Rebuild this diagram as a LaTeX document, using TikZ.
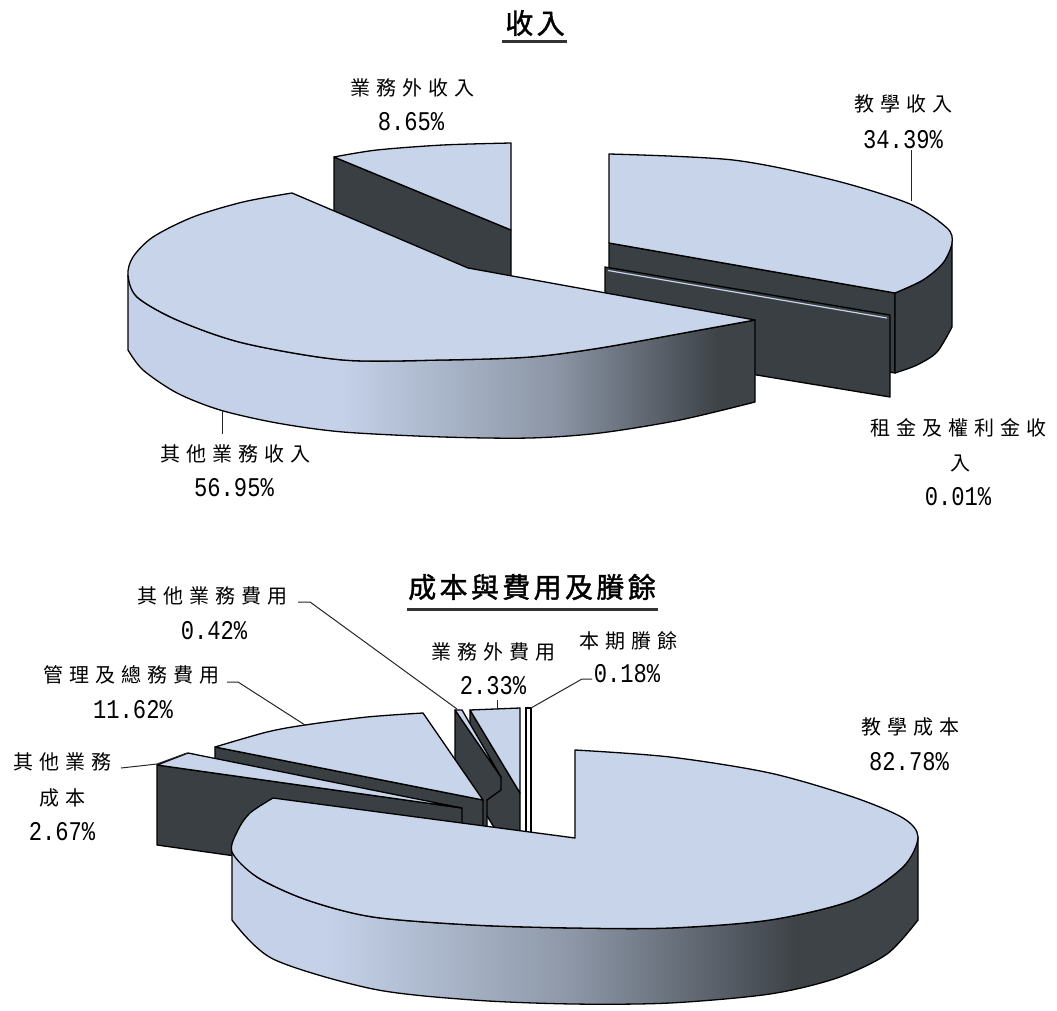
\documentclass[tikz,border=0pt]{standalone}
\usepackage{fontspec}
\newfontfamily\cjk[LetterSpace=30]{Noto Sans CJK TC}
\newfontfamily\cjktitle[LetterSpace=12,FakeBold=1.5]{Noto Sans CJK TC}
\newfontfamily\numf[FakeStretch=0.82]{Liberation Mono}
\definecolor{topc}{RGB}{200,212,234}
\definecolor{darkc}{RGB}{58,63,67}
\definecolor{sideL}{RGB}{196,209,232}
\definecolor{sideM}{RGB}{140,150,166}
\definecolor{sideD}{RGB}{62,67,72}
\pgfdeclarehorizontalshading{sideTop}{100bp}{color(0bp)=(sideL); color(42bp)=(sideL); color(59bp)=(sideM); color(72bp)=(sideD); color(100bp)=(sideD)}
\pgfdeclarehorizontalshading{sideBot}{100bp}{color(0bp)=(sideL); color(32bp)=(sideL); color(50bp)=(sideM); color(66bp)=(sideD); color(100bp)=(sideD)}
\tikzset{
  topface/.style={fill=topc, draw=black, line width=1.3pt, line join=round},
  darkface/.style={fill=darkc, draw=black, line width=1.3pt, line join=round},
  sidefaceT/.style={shading=sideTop, draw=black, line width=1.3pt, line join=round},
  sidefaceB/.style={shading=sideBot, draw=black, line width=1.3pt, line join=round},
  lbl/.style={inner sep=0pt, font=\cjk\fontsize{20}{24}\selectfont},
  num/.style={inner sep=0pt, font=\numf\fontsize{27}{30}\selectfont},
  ttl/.style={inner sep=0pt, font=\cjktitle\fontsize{28}{32}\selectfont},
  uline/.style={draw=black!80, line width=3pt},
  leader/.style={draw=black!85, line width=1pt}
}
\begin{document}
\begin{tikzpicture}[x=1pt,y=-1pt]
\fill[white] (0,0) rectangle (1057,1011);
\useasboundingbox (0,0) rectangle (1057,1011);

%% ================= TOP CHART =================
\node[ttl] (t1) at (535,23) {收入};
\coordinate (u1a) at (502,42); \coordinate (u1b) at (567,42);
\draw[uline] (u1a) -- (u1b);

% slice A: 業務外收入
\path[darkface] (334,157) -- (511,230) -- (511,310) -- (334,237) -- cycle;
\path[topface] (511,230) -- (334,157) -- plot[smooth] coordinates {(334,157) (377,150) (443,145) (511,143)} -- cycle;

% slice B: 教學收入
\path[darkface] (609,243) -- (895,293) -- (895,373) -- (609,323) -- cycle;
\path[darkface] plot[smooth] coordinates {(952,243) (943,263) (923,280) (895,293)} -- (895,373) -- plot[smooth] coordinates {(895,373) (917,365) (937,352) (952,327)} -- cycle;
\path[topface] (609,243) -- (609,154) -- plot[smooth] coordinates {(609,154) (733,160) (833,180) (910,204) (947,228) (952,243) (943,263) (923,280) (895,293)} -- cycle;

% slice C: 租金及權利金收入
\path[darkface] (605,267) -- (890,315) -- (890,397) -- (605,350) -- cycle;
\draw[topc, line width=1.2pt] (608,270.5) -- (887,318);

% slice D: 其他業務收入
\path[sidefaceT] plot[smooth] coordinates {(128,275) (137,297) (177,320) (243,343) (343,360) (443,360) (530,357) (600,348) (700,330) (755,320)} -- (755,402) -- plot[smooth] coordinates {(755,402) (680,420) (600,433) (530,438) (443,437) (343,432) (277,423) (220,410) (177,393) (143,370) (128,350)} -- cycle;
\path[topface] (468,268) -- (292,193) -- plot[smooth] coordinates {(292,193) (243,202) (193,217) (153,237) (133,257) (128,275) (137,297) (177,320) (243,343) (343,360) (443,360) (530,357) (600,348) (700,330) (755,320)} -- cycle;

% labels
\node[lbl] (tA1) at (412,88) {業務外收入};
\node[num] (tA2) at (411,122) {8.65\%};
\node[lbl] (tB1) at (903,104) {教學收入};
\node[num] (tB2) at (903,140) {34.39\%};
\node[lbl] (tC1) at (958,428) {租金及權利金收};
\node[lbl] (tC2) at (960,463) {入};
\node[num] (tC3) at (958,497) {0.01\%};
\node[lbl] (tD1) at (235,454) {其他業務收入};
\node[num] (tD2) at (234,488) {56.95\%};

\coordinate (lB) at (911,201); \coordinate (lBt) at (911,150);
\draw[leader] (lBt) -- (lB);
\coordinate (lD) at (222,410); \coordinate (lDt) at (222,434);
\draw[leader] (lD) -- (lDt);

%% ================= BOTTOM CHART =================
\node[ttl] (t2) at (532,587) {成本與費用及賸餘};
\coordinate (u2a) at (407,609); \coordinate (u2b) at (658,609);
\draw[uline] (u2a) -- (u2b);

% slice R: 本期賸餘
\path[fill=white, draw=black, line width=1.3pt] (526,708) rectangle (531,845);

% slice Q: 業務外費用
\path[darkface] (470,710) -- (520,793) -- (520,870) -- (470,788) -- cycle;
\path[topface] (470,710) -- (520,708) -- (520,793) -- cycle;

% slice P: 其他業務費用
\path[darkface] (455,710) -- (501,777) -- (501,790) -- (487,800) -- (487,878) -- (455,788) -- cycle;
\path[topface] (455,710) -- (462,710) -- (501,777) -- cycle;

% slice M: 管理及總務費用
\path[darkface] (215,747) -- (483,800) -- (483,878) -- (215,825) -- cycle;
\path[topface] (483,800) -- (215,747) -- plot[smooth] coordinates {(215,747) (267,732) (305,725) (367,717) (423,713)} -- cycle;

% slice O: 其他業務成本
\path[darkface] (157,765) -- (462,808) -- (462,888) -- (157,845) -- cycle;
\path[topface] (157,765) -- (188,753) -- (462,808) -- cycle;

% main slice: 教學成本
\path[sidefaceB] plot[smooth] coordinates {(232,852) (257,877) (307,900) (373,917) (473,925) (573,928) (670,928) (770,920) (853,900) (903,867) (918,837)} -- (918,920) -- plot[smooth] coordinates {(918,920) (887,954) (837,978) (770,994) (670,1003) (573,1004) (473,1000) (373,989) (273,959) (232,920)} -- cycle;
\path[topface] (575,838) -- (273,798) -- plot[smooth] coordinates {(273,798) (250,813) (238,830) (232,852) (257,877) (307,900) (373,917) (473,925) (573,928) (670,928) (770,920) (853,900) (903,867) (918,837) (903,818) (853,797) (770,773) (670,757) (575,750)} -- cycle;

% labels
\node[lbl] (bP1) at (212,596) {其他業務費用};
\node[num] (bP2) at (214,631) {0.42\%};
\node[lbl] (bM1) at (131,675) {管理及總務費用};
\node[num] (bM2) at (133,710) {11.62\%};
\node[lbl] (bO1) at (62,762) {其他業務};
\node[lbl] (bO2) at (62,798) {成本};
\node[num] (bO3) at (62,832) {2.67\%};
\node[lbl] (bQ1) at (493,652) {業務外費用};
\node[num] (bQ2) at (493,686) {2.33\%};
\node[lbl] (bR1) at (628,641) {本期賸餘};
\node[num] (bR2) at (627,674) {0.18\%};
\node[lbl] (bN1) at (910,727) {教學成本};
\node[num] (bN2) at (909,762) {82.78\%};

% leaders
\coordinate (lP0) at (298,602); \coordinate (lP1) at (310,602); \coordinate (lP2) at (457,709);
\draw[leader] (lP0) -- (lP1) -- (lP2);
\coordinate (lM0) at (227,682); \coordinate (lM1) at (238,682); \coordinate (lM2) at (305,725);
\draw[leader] (lM0) -- (lM1) -- (lM2);
\coordinate (lO0) at (121,768); \coordinate (lO1) at (157,764); \coordinate (lO2) at (187,753);
\draw[leader] (lO0) -- (lO1) -- (lO2);
\coordinate (lQ0) at (497,700); \coordinate (lQ1) at (497,709);
\draw[leader] (lQ0) -- (lQ1);
\coordinate (lR0) at (592,679); \coordinate (lR1) at (582,679); \coordinate (lR2) at (531,708);
\draw[leader] (lR0) -- (lR1) -- (lR2);
\end{tikzpicture}
\end{document}
